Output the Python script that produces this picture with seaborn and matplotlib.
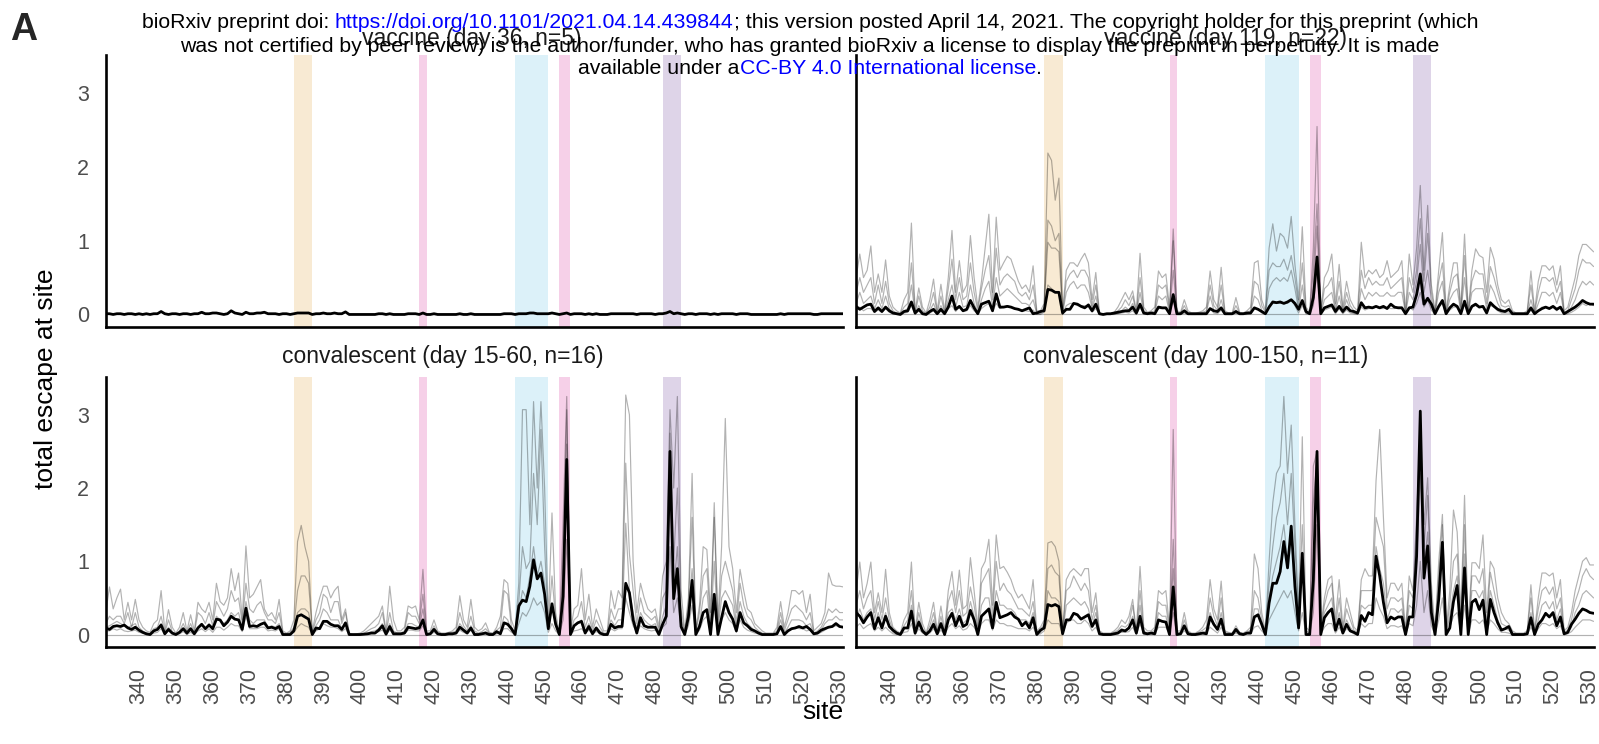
import matplotlib
matplotlib.use("Agg")
import matplotlib.pyplot as plt
import numpy as np
import pandas as pd
import seaborn as sns

sns.set_theme(style="white")
plt.rcParams["font.family"] = ["Liberation Sans", "DejaVu Sans"]

# ---------------------------------------------------------------- data
SITES = list(range(331, 532))
X_TICKS = list(range(340, 531, 10))
Y_TICKS = [0, 1, 2, 3]

# antigenic regions highlighted behind the lines: (first, last, colour)
REGIONS = [
    (382, 387, "#F8EAD3"),
    (416, 418, "#F6D0E8"),
    (442, 451, "#DCF1F9"),
    (454, 457, "#F6D0E8"),
    (482, 487, "#DED4E8"),
]

# mean total escape per site
VAX36_MEAN = [
    0.01, 0.01, 0.00, 0.01, 0.01, 0.00, 0.01, 0.01, 0.00, 0.01,
    0.00, 0.01, 0.00, 0.01, 0.01, 0.04, 0.01, 0.00, 0.01, 0.01,
    0.00, 0.01, 0.01, 0.00, 0.01, 0.01, 0.03, 0.01, 0.01, 0.02,
    0.02, 0.01, 0.00, 0.01, 0.05, 0.02, 0.01, 0.00, 0.03, 0.01,
    0.01, 0.02, 0.02, 0.03, 0.01, 0.01, 0.01, 0.00, 0.01, 0.01,
    0.00, 0.01, 0.02, 0.02, 0.02, 0.02, 0.00, 0.01, 0.01, 0.02,
    0.01, 0.01, 0.02, 0.01, 0.01, 0.035, 0.00, 0.00, 0.00, 0.00,
    0.00, 0.00, 0.00, 0.00, 0.01, 0.01, 0.00, 0.01, 0.00, 0.00,
    0.00, 0.00, 0.01, 0.01, 0.01, 0.00, 0.02, 0.00, 0.00, 0.01,
    0.00, 0.00, 0.00, 0.00, 0.00, 0.00, 0.01, 0.00, 0.00, 0.01,
    0.00, 0.00, 0.00, 0.00, 0.00, 0.00, 0.00, 0.00, 0.01, 0.01,
    0.01, 0.00, 0.01, 0.01, 0.01, 0.02, 0.02, 0.01, 0.01, 0.01,
    0.01, 0.02, 0.01, 0.00, 0.01, 0.02, 0.00, 0.01, 0.01, 0.01,
    0.00, 0.01, 0.00, 0.01, 0.00, 0.00, 0.00, 0.01, 0.01, 0.01,
    0.01, 0.01, 0.01, 0.01, 0.00, 0.01, 0.01, 0.01, 0.01, 0.00,
    0.01, 0.01, 0.02, 0.04, 0.01, 0.02, 0.01, 0.00, 0.01, 0.01,
    0.00, 0.01, 0.01, 0.01, 0.00, 0.01, 0.00, 0.01, 0.01, 0.01,
    0.01, 0.00, 0.01, 0.01, 0.01, 0.00, 0.00, 0.00, 0.00, 0.00,
    0.00, 0.00, 0.00, 0.01, 0.00, 0.01, 0.01, 0.01, 0.01, 0.01,
    0.01, 0.01, 0.00, 0.00, 0.01, 0.01, 0.01, 0.01, 0.01, 0.01, 0.01,
]

VAX119_MEAN = [
    0.11, 0.07, 0.10, 0.13, 0.14, 0.04, 0.09, 0.04, 0.10, 0.05,
    0.02, 0.01, 0.00, 0.04, 0.05, 0.17, 0.02, 0.07, 0.01, 0.00,
    0.04, 0.07, 0.01, 0.07, 0.01, 0.10, 0.25, 0.07, 0.11, 0.05,
    0.07, 0.19, 0.09, 0.01, 0.14, 0.16, 0.18, 0.05, 0.28, 0.10,
    0.10, 0.11, 0.10, 0.08, 0.07, 0.05, 0.07, 0.09, 0.01, 0.02,
    0.04, 0.05, 0.34, 0.33, 0.30, 0.30, 0.02, 0.07, 0.07, 0.15,
    0.14, 0.11, 0.09, 0.13, 0.05, 0.14, 0.01, 0.00, 0.01, 0.01,
    0.02, 0.03, 0.04, 0.05, 0.05, 0.10, 0.02, 0.14, 0.02, 0.01,
    0.02, 0.01, 0.10, 0.09, 0.09, 0.01, 0.27, 0.01, 0.01, 0.05,
    0.01, 0.01, 0.01, 0.01, 0.01, 0.01, 0.08, 0.05, 0.04, 0.09,
    0.01, 0.01, 0.01, 0.04, 0.01, 0.01, 0.02, 0.02, 0.09, 0.07,
    0.04, 0.01, 0.10, 0.17, 0.16, 0.17, 0.15, 0.17, 0.20, 0.15,
    0.07, 0.19, 0.04, 0.01, 0.23, 0.78, 0.01, 0.09, 0.11, 0.13,
    0.04, 0.11, 0.04, 0.10, 0.05, 0.04, 0.02, 0.16, 0.09, 0.10,
    0.09, 0.11, 0.09, 0.11, 0.08, 0.14, 0.10, 0.09, 0.09, 0.01,
    0.09, 0.10, 0.27, 0.55, 0.14, 0.22, 0.14, 0.01, 0.11, 0.19,
    0.01, 0.09, 0.14, 0.11, 0.01, 0.18, 0.01, 0.11, 0.14, 0.10,
    0.11, 0.02, 0.16, 0.11, 0.07, 0.05, 0.04, 0.07, 0.01, 0.01,
    0.01, 0.01, 0.01, 0.09, 0.01, 0.05, 0.08, 0.10, 0.08, 0.11,
    0.07, 0.10, 0.01, 0.04, 0.07, 0.10, 0.14, 0.19, 0.16, 0.14, 0.14,
]

CONV_EARLY_MEAN = [
    0.09, 0.07, 0.11, 0.12, 0.11, 0.13, 0.09, 0.07, 0.10, 0.06,
    0.03, 0.01, 0.00, 0.05, 0.07, 0.13, 0.01, 0.07, 0.02, 0.00,
    0.03, 0.08, 0.02, 0.08, 0.01, 0.09, 0.14, 0.08, 0.13, 0.08,
    0.21, 0.20, 0.12, 0.17, 0.25, 0.21, 0.20, 0.07, 0.36, 0.11,
    0.12, 0.11, 0.14, 0.16, 0.09, 0.10, 0.08, 0.11, 0.00, 0.00,
    0.00, 0.05, 0.25, 0.27, 0.24, 0.21, 0.00, 0.09, 0.08, 0.18,
    0.18, 0.14, 0.12, 0.12, 0.07, 0.16, 0.00, 0.00, 0.00, 0.00,
    0.005, 0.01, 0.02, 0.02, 0.06, 0.12, 0.005, 0.11, 0.01, 0.01,
    0.01, 0.02, 0.10, 0.09, 0.08, 0.09, 0.20, 0.00, 0.01, 0.07,
    0.01, 0.00, 0.00, 0.01, 0.01, 0.02, 0.10, 0.06, 0.02, 0.09,
    0.00, 0.00, 0.01, 0.02, 0.00, 0.00, 0.04, 0.01, 0.16, 0.14,
    0.08, 0.00, 0.39, 0.47, 0.45, 0.66, 1.02, 0.76, 0.84, 0.55,
    0.08, 0.42, 0.14, 0.00, 0.52, 2.39, 0.00, 0.12, 0.16, 0.18,
    0.02, 0.11, 0.01, 0.09, 0.02, 0.00, 0.00, 0.14, 0.09, 0.11,
    0.11, 0.70, 0.57, 0.20, 0.02, 0.23, 0.12, 0.10, 0.10, 0.10,
    0.00, 0.14, 0.25, 2.50, 0.49, 0.90, 0.11, 0.00, 0.24, 0.74,
    0.00, 0.11, 0.30, 0.34, 0.00, 0.55, 0.00, 0.23, 0.45, 0.30,
    0.21, 0.05, 0.30, 0.16, 0.12, 0.07, 0.05, 0.02, 0.00, 0.00,
    0.00, 0.00, 0.01, 0.11, 0.00, 0.05, 0.08, 0.09, 0.11, 0.09,
    0.11, 0.07, 0.01, 0.02, 0.06, 0.08, 0.10, 0.11, 0.15, 0.11, 0.10,
]

CONV_LATE_MEAN = [
    0.30, 0.25, 0.16, 0.24, 0.30, 0.08, 0.23, 0.09, 0.25, 0.11,
    0.06, 0.02, 0.00, 0.09, 0.09, 0.32, 0.02, 0.17, 0.05, 0.00,
    0.05, 0.14, 0.01, 0.15, 0.00, 0.20, 0.29, 0.12, 0.25, 0.11,
    0.14, 0.33, 0.20, 0.00, 0.25, 0.30, 0.35, 0.09, 0.44, 0.23,
    0.25, 0.27, 0.30, 0.24, 0.21, 0.12, 0.17, 0.09, 0.23, 0.00,
    0.06, 0.09, 0.41, 0.39, 0.41, 0.38, 0.01, 0.20, 0.20, 0.29,
    0.27, 0.21, 0.24, 0.27, 0.11, 0.20, 0.01, 0.00, 0.00, 0.00,
    0.01, 0.02, 0.06, 0.05, 0.09, 0.20, 0.02, 0.25, 0.02, 0.01,
    0.02, 0.01, 0.20, 0.18, 0.17, 0.00, 0.65, 0.00, 0.01, 0.12,
    0.01, 0.00, 0.00, 0.01, 0.02, 0.01, 0.24, 0.14, 0.07, 0.21,
    0.00, 0.00, 0.00, 0.07, 0.01, 0.00, 0.02, 0.02, 0.24, 0.27,
    0.14, 0.00, 0.43, 0.70, 0.70, 0.86, 1.27, 0.91, 1.48, 0.66,
    0.09, 1.11, 0.00, 0.00, 0.75, 2.50, 0.00, 0.23, 0.30, 0.35,
    0.06, 0.21, 0.02, 0.14, 0.05, 0.03, 0.00, 0.26, 0.18, 0.30,
    0.27, 1.07, 0.80, 0.44, 0.16, 0.24, 0.21, 0.24, 0.24, 0.00,
    0.24, 0.24, 1.07, 3.05, 0.77, 1.21, 0.30, 0.00, 0.48, 1.26,
    0.00, 0.09, 0.45, 0.67, 0.00, 0.91, 0.00, 0.44, 0.48, 0.34,
    0.47, 0.00, 0.48, 0.30, 0.16, 0.06, 0.08, 0.11, 0.00, 0.00,
    0.00, 0.00, 0.01, 0.23, 0.00, 0.14, 0.20, 0.29, 0.24, 0.30,
    0.12, 0.24, 0.01, 0.03, 0.14, 0.21, 0.29, 0.35, 0.33, 0.30, 0.29,
]

# individual sera (a few representative ones per group)
NO_ESCAPE = [
    0, 0, 0, 0, 0, 0, 0, 0, 0, 0, 0, 0, 0, 0, 0, 0, 0, 0, 0, 0,
    0, 0, 0, 0, 0, 0, 0, 0, 0, 0, 0, 0, 0, 0, 0, 0, 0, 0, 0, 0,
    0, 0, 0, 0, 0, 0, 0, 0, 0, 0, 0, 0, 0, 0, 0, 0, 0, 0, 0, 0,
    0, 0, 0, 0, 0, 0, 0, 0, 0, 0, 0, 0, 0, 0, 0, 0, 0, 0, 0, 0,
    0, 0, 0, 0, 0, 0, 0, 0, 0, 0, 0, 0, 0, 0, 0, 0, 0, 0, 0, 0,
    0, 0, 0, 0, 0, 0, 0, 0, 0, 0, 0, 0, 0, 0, 0, 0, 0, 0, 0, 0,
    0, 0, 0, 0, 0, 0, 0, 0, 0, 0, 0, 0, 0, 0, 0, 0, 0, 0, 0, 0,
    0, 0, 0, 0, 0, 0, 0, 0, 0, 0, 0, 0, 0, 0, 0, 0, 0, 0, 0, 0,
    0, 0, 0, 0, 0, 0, 0, 0, 0, 0, 0, 0, 0, 0, 0, 0, 0, 0, 0, 0,
    0, 0, 0, 0, 0, 0, 0, 0, 0, 0, 0, 0, 0, 0, 0, 0, 0, 0, 0, 0,
    0,
]

VAX119_S1 = [
    0.5, 0.82, 0.5, 0.6, 0.93, 0.3, 0.55, 0.3, 0.74, 0.25,
    0.1, 0.05, 0.02, 0.2, 0.3, 1.24, 0.05, 0.36, 0.1, 0.02,
    0.2, 0.48, 0.05, 0.41, 0.05, 0.5, 1.14, 0.3, 0.73, 0.3,
    0.4, 1.07, 0.5, 0.1, 0.45, 0.9, 1.36, 0.3, 1.32, 0.6,
    0.7, 0.79, 0.75, 0.6, 0.45, 0.35, 0.4, 0.3, 0.66, 0.05,
    0.05, 0.15, 2.19, 2.09, 1.55, 1.85, 0.05, 0.6, 0.7, 0.7,
    0.65, 0.75, 0.83, 0.7, 0.2, 0.57, 0.02, 0, 0.01, 0.01,
    0.03, 0.1, 0.2, 0.3, 0.2, 0.32, 0.05, 0.83, 0.1, 0.03,
    0.05, 0.1, 0.59, 0.5, 0.55, 0.1, 1.16, 0.05, 0.03, 0.2,
    0.05, 0.02, 0.02, 0.03, 0.05, 0.1, 0.59, 0.2, 0.1, 0.64,
    0.05, 0.02, 0.02, 0.23, 0.03, 0.02, 0.05, 0.1, 0.7, 0.73,
    0.2, 0.05, 0.9, 1.23, 0.86, 1.1, 1.05, 0.9, 1.33, 0.68,
    0.2, 1.19, 0.1, 0.03, 0.9, 2.55, 0.05, 0.5, 0.6, 0.82,
    0.15, 0.68, 0.1, 0.45, 0.2, 0.1, 0.05, 0.98, 0.5, 0.6,
    0.55, 0.61, 0.5, 0.55, 0.73, 0.5, 0.55, 0.6, 0.73, 0.05,
    0.82, 0.4, 0.9, 1.75, 0.6, 1.48, 0.4, 0.05, 0.6, 1.11,
    0.05, 0.4, 0.7, 0.7, 0.1, 1.09, 0.05, 0.6, 0.89, 0.8,
    0.77, 0.3, 0.91, 0.75, 0.4, 0.2, 0.15, 0.2, 0.05, 0.02,
    0.02, 0.02, 0.05, 0.59, 0.05, 0.45, 0.66, 0.66, 0.6, 0.66,
    0.4, 0.66, 0.05, 0.1, 0.3, 0.5, 0.8, 0.95, 0.95, 0.9, 0.85,
]
VAX119_S2 = [
    0.3, 0.5, 0.3, 0.4, 0.5, 0.15, 0.4, 0.15, 0.45, 0.15,
    0.05, 0.02, 0.01, 0.1, 0.15, 0.7, 0.02, 0.25, 0.05, 0.01,
    0.1, 0.3, 0.02, 0.25, 0.02, 0.35, 0.75, 0.2, 0.5, 0.2,
    0.25, 0.7, 0.3, 0.05, 0.35, 0.6, 0.8, 0.2, 0.9, 0.4,
    0.5, 0.55, 0.5, 0.45, 0.3, 0.25, 0.3, 0.2, 0.4, 0.02,
    0.03, 0.1, 1.28, 1.2, 1.0, 1.1, 0.02, 0.45, 0.55, 0.6,
    0.5, 0.6, 0.6, 0.5, 0.12, 0.4, 0.01, 0, 0, 0,
    0.02, 0.05, 0.1, 0.2, 0.12, 0.25, 0.02, 0.5, 0.05, 0.02,
    0.03, 0.05, 0.4, 0.35, 0.4, 0.05, 1.0, 0.02, 0.02, 0.12,
    0.02, 0.01, 0.01, 0.02, 0.03, 0.05, 0.4, 0.12, 0.06, 0.4,
    0.02, 0.01, 0.01, 0.12, 0.02, 0.01, 0.03, 0.05, 0.45, 0.4,
    0.12, 0.03, 0.6, 0.7, 0.65, 0.65, 0.75, 0.6, 0.8, 0.5,
    0.12, 0.7, 0.05, 0.02, 0.6, 1.5, 0.02, 0.35, 0.4, 0.5,
    0.08, 0.45, 0.05, 0.3, 0.12, 0.05, 0.02, 0.6, 0.35, 0.5,
    0.4, 0.45, 0.4, 0.4, 0.5, 0.35, 0.4, 0.45, 0.5, 0.02,
    0.5, 0.3, 0.6, 1.3, 0.45, 1.1, 0.3, 0.02, 0.45, 0.7,
    0.02, 0.3, 0.5, 0.55, 0.05, 0.8, 0.02, 0.45, 0.6, 0.55,
    0.55, 0.15, 0.65, 0.5, 0.3, 0.12, 0.1, 0.12, 0.02, 0.01,
    0.01, 0.01, 0.03, 0.4, 0.02, 0.3, 0.5, 0.5, 0.45, 0.5,
    0.3, 0.45, 0.02, 0.05, 0.2, 0.35, 0.6, 0.75, 0.7, 0.7, 0.65,
]
VAX119_S3 = [
    0.15, 0.3, 0.15, 0.2, 0.25, 0.08, 0.2, 0.08, 0.25, 0.08,
    0.02, 0.01, 0, 0.05, 0.08, 0.4, 0.01, 0.12, 0.02, 0,
    0.05, 0.15, 0.01, 0.12, 0.01, 0.2, 0.4, 0.1, 0.3, 0.1,
    0.12, 0.4, 0.15, 0.02, 0.2, 0.35, 0.45, 0.1, 0.5, 0.25,
    0.3, 0.35, 0.3, 0.25, 0.2, 0.15, 0.15, 0.12, 0.2, 0.01,
    0.01, 0.08, 0.98, 0.9, 0.9, 0.85, 0.01, 0.3, 0.4, 0.45,
    0.35, 0.4, 0.4, 0.3, 0.08, 0.25, 0, 0, 0, 0,
    0.01, 0.02, 0.05, 0.1, 0.06, 0.15, 0.01, 0.3, 0.02, 0.01,
    0.01, 0.02, 0.25, 0.2, 0.25, 0.02, 0.6, 0.01, 0.01, 0.06,
    0.01, 0, 0, 0.01, 0.01, 0.03, 0.25, 0.06, 0.03, 0.2,
    0.01, 0, 0, 0.06, 0.01, 0, 0.01, 0.03, 0.25, 0.2,
    0.06, 0.01, 0.35, 0.45, 0.5, 0.45, 0.5, 0.45, 0.6, 0.35,
    0.06, 0.4, 0.02, 0.01, 0.35, 1.2, 0.01, 0.2, 0.25, 0.3,
    0.04, 0.25, 0.02, 0.2, 0.06, 0.02, 0.01, 0.35, 0.2, 0.3,
    0.25, 0.3, 0.25, 0.25, 0.3, 0.25, 0.25, 0.3, 0.3, 0.01,
    0.3, 0.2, 0.45, 0.95, 0.3, 0.6, 0.2, 0.01, 0.3, 0.45,
    0.01, 0.2, 0.3, 0.35, 0.02, 0.5, 0.01, 0.3, 0.35, 0.35,
    0.35, 0.08, 0.4, 0.3, 0.15, 0.06, 0.05, 0.06, 0.01, 0,
    0, 0, 0.01, 0.2, 0.01, 0.15, 0.3, 0.3, 0.25, 0.3,
    0.15, 0.3, 0.01, 0.03, 0.1, 0.2, 0.35, 0.45, 0.4, 0.45, 0.4,
]
VAX119_S4 = [
    0.05, 0.1, 0.05, 0.08, 0.08, 0.03, 0.06, 0.03, 0.08, 0.03,
    0.01, 0, 0, 0.02, 0.03, 0.12, 0, 0.05, 0.01, 0,
    0.02, 0.05, 0, 0.05, 0, 0.08, 0.12, 0.04, 0.1, 0.04,
    0.05, 0.12, 0.05, 0.01, 0.08, 0.12, 0.15, 0.04, 0.15, 0.08,
    0.1, 0.12, 0.1, 0.08, 0.06, 0.05, 0.05, 0.04, 0.06, 0,
    0, 0.03, 0.4, 0.35, 0.3, 0.3, 0, 0.12, 0.15, 0.15,
    0.12, 0.12, 0.12, 0.1, 0.03, 0.08, 0, 0, 0, 0,
    0, 0.01, 0.02, 0.03, 0.02, 0.05, 0, 0.1, 0.01, 0,
    0, 0.01, 0.08, 0.08, 0.08, 0.01, 0.2, 0, 0, 0.02,
    0, 0, 0, 0, 0, 0.01, 0.08, 0.02, 0.01, 0.06,
    0, 0, 0, 0.02, 0, 0, 0, 0.01, 0.08, 0.08,
    0.02, 0, 0.12, 0.15, 0.15, 0.15, 0.15, 0.15, 0.2, 0.12,
    0.02, 0.12, 0.01, 0, 0.12, 0.6, 0, 0.06, 0.08, 0.1,
    0.01, 0.08, 0.01, 0.06, 0.02, 0.01, 0, 0.1, 0.06, 0.08,
    0.08, 0.1, 0.08, 0.08, 0.1, 0.08, 0.08, 0.1, 0.1, 0,
    0.1, 0.06, 0.15, 0.3, 0.1, 0.2, 0.06, 0, 0.1, 0.15,
    0, 0.06, 0.1, 0.1, 0.01, 0.15, 0, 0.1, 0.12, 0.1,
    0.1, 0.02, 0.12, 0.1, 0.05, 0.02, 0.02, 0.02, 0, 0,
    0, 0, 0, 0.06, 0, 0.05, 0.1, 0.1, 0.08, 0.1,
    0.05, 0.1, 0, 0.01, 0.03, 0.06, 0.1, 0.15, 0.12, 0.15, 0.12,
]

CONV_EARLY_S1 = [
    0.3, 0.65, 0.35, 0.5, 0.62, 0.2, 0.44, 0.2, 0.48, 0.2,
    0.1, 0.05, 0.03, 0.15, 0.2, 0.6, 0.05, 0.34, 0.1, 0.02,
    0.1, 0.3, 0.05, 0.27, 0.05, 0.44, 0.35, 0.3, 0.44, 0.2,
    0.7, 0.45, 0.4, 0.5, 0.9, 0.6, 0.84, 0.2, 1.21, 0.5,
    0.55, 0.65, 0.75, 0.35, 0.25, 0.3, 0.2, 0.48, 0.05, 0.02,
    0.05, 0.2, 1.27, 1.49, 1.2, 1.0, 0.05, 0.3, 0.5, 0.66,
    0.66, 0.5, 0.6, 0.66, 0.2, 0.35, 0.02, 0, 0.01, 0.02,
    0.05, 0.1, 0.15, 0.2, 0.25, 0.39, 0.05, 0.66, 0.2, 0.05,
    0.05, 0.1, 0.39, 0.36, 0.39, 0.2, 0.89, 0.05, 0.05, 0.2,
    0.05, 0.02, 0.02, 0.03, 0.05, 0.1, 0.53, 0.2, 0.1, 0.48,
    0.1, 0.05, 0.08, 0.16, 0.03, 0.02, 0.1, 0.25, 0.75, 0.7,
    0.2, 0.05, 0.7, 3.07, 3.07, 1.5, 3.18, 2.0, 3.18, 2.0,
    0.2, 1.66, 0.3, 0.02, 1.5, 3.25, 0.05, 0.35, 0.4, 0.9,
    0.2, 0.55, 0.1, 0.35, 0.2, 0.05, 0.05, 0.6, 0.35, 0.6,
    0.5, 3.27, 3.0, 1.0, 0.3, 0.7, 0.5, 0.35, 0.3, 0.35,
    0.1, 0.8, 1.0, 3.07, 2.0, 3.25, 0.6, 0.05, 0.5, 2.2,
    0.05, 0.4, 1.2, 1.16, 0.3, 1.8, 0.2, 1.2, 2.95, 1.2,
    0.9, 0.3, 0.89, 0.6, 0.35, 0.3, 0.15, 0.1, 0.05, 0.02,
    0.02, 0.02, 0.1, 0.45, 0.1, 0.3, 0.6, 0.6, 0.55, 0.6,
    0.3, 0.55, 0.05, 0.1, 0.15, 0.3, 0.84, 0.68, 0.66, 0.66, 0.65,
]
CONV_EARLY_S2 = [
    0.15, 0.25, 0.2, 0.25, 0.25, 0.15, 0.3, 0.1, 0.3, 0.1,
    0.05, 0.02, 0.01, 0.08, 0.1, 0.25, 0.02, 0.2, 0.04, 0.01,
    0.05, 0.15, 0.03, 0.15, 0.02, 0.3, 0.25, 0.15, 0.3, 0.12,
    0.45, 0.35, 0.25, 0.35, 0.6, 0.45, 0.5, 0.15, 0.7, 0.35,
    0.3, 0.4, 0.45, 0.3, 0.2, 0.2, 0.15, 0.3, 0.02, 0.01,
    0.03, 0.1, 0.6, 0.8, 0.8, 0.7, 0.02, 0.2, 0.3, 0.55,
    0.5, 0.3, 0.45, 0.45, 0.15, 0.3, 0.01, 0, 0, 0.01,
    0.02, 0.05, 0.08, 0.1, 0.15, 0.3, 0.02, 0.3, 0.05, 0.02,
    0.02, 0.05, 0.3, 0.25, 0.25, 0.15, 0.55, 0.02, 0.02, 0.12,
    0.02, 0.01, 0.01, 0.02, 0.03, 0.05, 0.3, 0.12, 0.05, 0.25,
    0.05, 0.02, 0.04, 0.08, 0.02, 0.01, 0.06, 0.1, 0.6, 0.55,
    0.1, 0.02, 0.45, 1.2, 0.9, 1.0, 2.2, 1.5, 2.8, 1.2,
    0.12, 0.8, 0.2, 0.01, 0.9, 3.07, 0.02, 0.2, 0.25, 0.45,
    0.1, 0.25, 0.05, 0.2, 0.1, 0.02, 0.02, 0.35, 0.2, 0.35,
    0.35, 2.34, 1.1, 0.6, 0.15, 0.5, 0.3, 0.25, 0.2, 0.25,
    0.05, 0.5, 0.6, 2.75, 1.0, 2.0, 0.35, 0.02, 0.4, 1.6,
    0.02, 0.3, 0.8, 0.9, 0.15, 1.6, 0.1, 0.8, 1.0, 0.8,
    0.6, 0.15, 0.7, 0.4, 0.25, 0.2, 0.1, 0.05, 0.02, 0.01,
    0.01, 0.01, 0.05, 0.3, 0.05, 0.2, 0.35, 0.4, 0.35, 0.3,
    0.2, 0.3, 0.02, 0.05, 0.1, 0.2, 0.35, 0.3, 0.35, 0.3, 0.3,
]
CONV_EARLY_S3 = [
    0.1, 0.12, 0.15, 0.18, 0.15, 0.12, 0.1, 0.12, 0.15, 0.05,
    0.03, 0.01, 0, 0.05, 0.06, 0.15, 0.01, 0.1, 0.02, 0,
    0.03, 0.08, 0.01, 0.06, 0.01, 0.1, 0.15, 0.08, 0.15, 0.06,
    0.25, 0.2, 0.15, 0.2, 0.3, 0.25, 0.3, 0.08, 0.45, 0.2,
    0.15, 0.2, 0.2, 0.2, 0.1, 0.12, 0.1, 0.15, 0.01, 0,
    0.01, 0.08, 0.3, 0.35, 0.35, 0.3, 0.01, 0.12, 0.2, 0.35,
    0.3, 0.2, 0.2, 0.2, 0.08, 0.15, 0, 0, 0, 0,
    0.01, 0.02, 0.04, 0.05, 0.08, 0.15, 0.01, 0.15, 0.02, 0.01,
    0.01, 0.03, 0.15, 0.15, 0.12, 0.1, 0.35, 0.01, 0.01, 0.08,
    0.01, 0, 0, 0.01, 0.01, 0.03, 0.15, 0.08, 0.03, 0.12,
    0.02, 0.01, 0.02, 0.04, 0.01, 0, 0.03, 0.05, 0.25, 0.2,
    0.05, 0.01, 0.3, 0.6, 0.5, 0.8, 1.2, 0.8, 1.0, 0.7,
    0.08, 0.4, 0.12, 0, 0.5, 2.6, 0.01, 0.12, 0.15, 0.2,
    0.05, 0.15, 0.02, 0.1, 0.05, 0.01, 0.01, 0.2, 0.12, 0.2,
    0.2, 1.52, 0.6, 0.3, 0.08, 0.3, 0.2, 0.15, 0.12, 0.15,
    0.02, 0.25, 0.4, 2.2, 0.6, 1.2, 0.2, 0.01, 0.3, 0.9,
    0.01, 0.15, 0.5, 0.6, 0.08, 1.0, 0.05, 0.5, 0.6, 0.5,
    0.4, 0.08, 0.45, 0.25, 0.15, 0.1, 0.05, 0.03, 0.01, 0,
    0, 0, 0.02, 0.2, 0.02, 0.1, 0.2, 0.2, 0.2, 0.18,
    0.12, 0.15, 0.01, 0.03, 0.06, 0.15, 0.2, 0.2, 0.25, 0.2, 0.2,
]
CONV_EARLY_S4 = [
    0.05, 0.05, 0.08, 0.06, 0.08, 0.05, 0.04, 0.05, 0.06, 0.03,
    0.02, 0, 0, 0.02, 0.03, 0.08, 0, 0.05, 0.01, 0,
    0.01, 0.04, 0, 0.03, 0, 0.05, 0.08, 0.04, 0.08, 0.03,
    0.1, 0.1, 0.06, 0.1, 0.15, 0.12, 0.12, 0.04, 0.25, 0.08,
    0.08, 0.08, 0.1, 0.1, 0.05, 0.06, 0.05, 0.08, 0, 0,
    0, 0.03, 0.1, 0.15, 0.12, 0.1, 0, 0.05, 0.08, 0.15,
    0.12, 0.1, 0.1, 0.08, 0.04, 0.08, 0, 0, 0, 0,
    0, 0.01, 0.02, 0.02, 0.04, 0.06, 0, 0.06, 0.01, 0,
    0, 0.01, 0.06, 0.06, 0.05, 0.05, 0.12, 0, 0, 0.03,
    0, 0, 0, 0, 0, 0.01, 0.06, 0.03, 0.01, 0.06,
    0.01, 0, 0.01, 0.02, 0, 0, 0.01, 0.02, 0.08, 0.08,
    0.03, 0, 0.15, 0.3, 0.25, 0.35, 0.5, 0.4, 0.45, 0.3,
    0.03, 0.15, 0.05, 0, 0.2, 1.3, 0, 0.05, 0.06, 0.08,
    0.02, 0.06, 0.01, 0.04, 0.02, 0, 0, 0.08, 0.05, 0.08,
    0.08, 0.5, 0.3, 0.12, 0.03, 0.12, 0.08, 0.06, 0.05, 0.06,
    0.01, 0.1, 0.15, 1.2, 0.3, 0.5, 0.08, 0, 0.12, 0.4,
    0, 0.06, 0.2, 0.25, 0.03, 0.4, 0.02, 0.2, 0.3, 0.2,
    0.15, 0.03, 0.2, 0.1, 0.06, 0.04, 0.02, 0.01, 0, 0,
    0, 0, 0.01, 0.08, 0.01, 0.05, 0.08, 0.1, 0.08, 0.08,
    0.05, 0.06, 0, 0.01, 0.03, 0.06, 0.1, 0.1, 0.12, 0.1, 0.1,
]

CONV_LATE_S1 = [
    0.6, 0.99, 0.5, 0.7, 0.99, 0.3, 0.57, 0.3, 0.89, 0.3,
    0.1, 0.05, 0.02, 0.2, 0.3, 0.99, 0.05, 0.44, 0.15, 0.02,
    0.2, 0.44, 0.05, 0.39, 0.05, 0.6, 0.86, 0.4, 0.88, 0.35,
    0.4, 1.05, 0.6, 0.1, 0.9, 1.0, 1.3, 0.4, 1.36, 0.9,
    0.93, 0.85, 0.75, 0.6, 0.5, 0.55, 0.45, 0.35, 0.75, 0.05,
    0.1, 0.2, 1.25, 1.27, 1.2, 1.0, 0.05, 0.75, 0.85, 0.9,
    0.85, 0.8, 0.9, 0.9, 0.3, 0.57, 0.05, 0.02, 0.02, 0.02,
    0.05, 0.1, 0.2, 0.15, 0.25, 0.48, 0.05, 0.93, 0.1, 0.05,
    0.05, 0.1, 0.6, 0.55, 0.6, 0.1, 2.8, 0.05, 0.05, 0.3,
    0.05, 0.02, 0.02, 0.05, 0.1, 0.2, 0.75, 0.35, 0.2, 0.73,
    0.05, 0.03, 0.02, 0.12, 0.03, 0.02, 0.05, 0.1, 1.1, 0.9,
    0.3, 0.05, 1.0, 1.8, 2.2, 2.3, 3.25, 2.2, 2.86, 1.5,
    0.3, 2.7, 0.1, 0.05, 2.3, 2.5, 0.1, 0.5, 0.75, 0.8,
    0.2, 0.75, 0.1, 0.5, 0.3, 0.1, 0.05, 0.75, 0.9, 0.8,
    0.8, 2.1, 2.8, 1.6, 0.5, 0.7, 0.7, 0.6, 0.7, 0.05,
    0.8, 0.6, 1.6, 2.8, 1.5, 2.14, 0.7, 0.05, 1.0, 1.64,
    0.05, 0.6, 1.7, 1.4, 0.3, 1.9, 0.1, 0.98, 0.98, 0.9,
    1.36, 0.3, 1.0, 0.9, 0.5, 0.3, 0.2, 0.15, 0.05, 0.02,
    0.02, 0.02, 0.05, 0.68, 0.05, 0.5, 0.84, 0.84, 0.8, 0.84,
    0.5, 0.75, 0.05, 0.1, 0.3, 0.6, 0.8, 1.0, 1.05, 0.95, 0.95,
]
CONV_LATE_S2 = [
    0.4, 0.6, 0.35, 0.5, 0.6, 0.2, 0.45, 0.2, 0.5, 0.2,
    0.06, 0.03, 0.01, 0.12, 0.2, 0.6, 0.03, 0.3, 0.08, 0.01,
    0.12, 0.3, 0.03, 0.25, 0.02, 0.45, 0.6, 0.3, 0.6, 0.25,
    0.3, 0.65, 0.4, 0.05, 0.7, 0.8, 0.9, 0.25, 1.0, 0.6,
    0.7, 0.6, 0.55, 0.45, 0.35, 0.35, 0.3, 0.25, 0.45, 0.02,
    0.06, 0.15, 0.9, 0.95, 0.85, 0.8, 0.03, 0.6, 0.65, 0.8,
    0.7, 0.6, 0.7, 0.6, 0.2, 0.4, 0.02, 0.01, 0.01, 0.01,
    0.03, 0.06, 0.12, 0.1, 0.15, 0.4, 0.03, 0.6, 0.05, 0.02,
    0.03, 0.06, 0.45, 0.4, 0.4, 0.05, 1.3, 0.03, 0.03, 0.2,
    0.03, 0.01, 0.01, 0.03, 0.06, 0.1, 0.5, 0.25, 0.12, 0.5,
    0.03, 0.02, 0.01, 0.08, 0.02, 0.01, 0.03, 0.06, 0.6, 0.5,
    0.2, 0.03, 0.7, 1.2, 1.6, 1.8, 2.2, 1.5, 2.2, 1.2,
    0.2, 1.5, 0.05, 0.02, 1.8, 2.4, 0.05, 0.4, 0.6, 0.7,
    0.1, 0.5, 0.05, 0.35, 0.2, 0.06, 0.03, 0.6, 0.6, 0.6,
    0.6, 1.6, 1.4, 1.2, 0.35, 0.5, 0.5, 0.45, 0.5, 0.02,
    0.6, 0.5, 1.3, 2.5, 1.2, 1.9, 0.5, 0.03, 0.8, 1.5,
    0.02, 0.4, 1.0, 1.1, 0.15, 1.5, 0.05, 0.8, 0.8, 0.7,
    0.9, 0.15, 0.85, 0.6, 0.35, 0.15, 0.12, 0.1, 0.02, 0.01,
    0.01, 0.01, 0.03, 0.5, 0.03, 0.35, 0.6, 0.65, 0.55, 0.65,
    0.35, 0.5, 0.03, 0.06, 0.2, 0.45, 0.6, 0.8, 0.9, 0.8, 0.75,
]
CONV_LATE_S3 = [
    0.2, 0.35, 0.2, 0.3, 0.35, 0.1, 0.3, 0.12, 0.3, 0.1,
    0.03, 0.01, 0, 0.08, 0.1, 0.4, 0.01, 0.2, 0.05, 0,
    0.06, 0.2, 0.01, 0.15, 0.01, 0.3, 0.35, 0.2, 0.35, 0.15,
    0.2, 0.45, 0.25, 0.02, 0.4, 0.5, 0.5, 0.15, 0.6, 0.4,
    0.4, 0.35, 0.35, 0.3, 0.2, 0.2, 0.2, 0.15, 0.3, 0.01,
    0.03, 0.1, 0.6, 0.5, 0.5, 0.45, 0.02, 0.4, 0.45, 0.5,
    0.45, 0.4, 0.45, 0.35, 0.12, 0.3, 0.01, 0, 0, 0,
    0.02, 0.04, 0.08, 0.06, 0.1, 0.25, 0.02, 0.4, 0.03, 0.01,
    0.02, 0.03, 0.3, 0.25, 0.25, 0.03, 0.9, 0.01, 0.01, 0.12,
    0.01, 0, 0, 0.01, 0.03, 0.05, 0.3, 0.15, 0.06, 0.3,
    0.01, 0.01, 0, 0.04, 0.01, 0, 0.02, 0.03, 0.35, 0.35,
    0.1, 0.01, 0.5, 0.8, 1.0, 1.2, 1.5, 1.0, 1.4, 0.8,
    0.1, 1.0, 0.02, 0.01, 0.9, 2.2, 0.02, 0.3, 0.4, 0.5,
    0.05, 0.3, 0.02, 0.2, 0.1, 0.03, 0.01, 0.4, 0.35, 0.4,
    0.4, 1.2, 0.9, 0.7, 0.2, 0.35, 0.35, 0.3, 0.35, 0.01,
    0.4, 0.35, 1.0, 2.2, 0.9, 1.4, 0.35, 0.01, 0.6, 1.2,
    0.01, 0.25, 0.6, 0.8, 0.08, 1.1, 0.02, 0.6, 0.6, 0.5,
    0.6, 0.08, 0.6, 0.4, 0.2, 0.08, 0.08, 0.06, 0.01, 0,
    0, 0, 0.01, 0.3, 0.01, 0.2, 0.4, 0.45, 0.35, 0.45,
    0.2, 0.35, 0.01, 0.03, 0.1, 0.3, 0.4, 0.55, 0.6, 0.55, 0.5,
]
CONV_LATE_S4 = [
    0.1, 0.15, 0.08, 0.12, 0.15, 0.05, 0.1, 0.05, 0.1, 0.05,
    0.01, 0, 0, 0.03, 0.04, 0.15, 0, 0.08, 0.02, 0,
    0.02, 0.08, 0, 0.06, 0, 0.1, 0.15, 0.08, 0.12, 0.06,
    0.08, 0.15, 0.1, 0.01, 0.15, 0.2, 0.2, 0.06, 0.2, 0.15,
    0.15, 0.12, 0.12, 0.1, 0.08, 0.08, 0.08, 0.05, 0.1, 0,
    0.01, 0.05, 0.2, 0.15, 0.15, 0.15, 0.01, 0.15, 0.2, 0.2,
    0.15, 0.15, 0.2, 0.15, 0.05, 0.1, 0, 0, 0, 0,
    0.01, 0.02, 0.03, 0.03, 0.04, 0.1, 0, 0.15, 0.01, 0,
    0.01, 0.01, 0.1, 0.1, 0.1, 0.01, 0.3, 0, 0, 0.05,
    0, 0, 0, 0, 0.01, 0.02, 0.1, 0.06, 0.02, 0.1,
    0, 0, 0, 0.02, 0, 0, 0.01, 0.01, 0.1, 0.12,
    0.05, 0, 0.2, 0.3, 0.4, 0.5, 0.6, 0.5, 0.6, 0.3,
    0.05, 0.3, 0, 0, 0.3, 1.5, 0, 0.1, 0.15, 0.15,
    0.02, 0.1, 0.01, 0.08, 0.04, 0.01, 0, 0.15, 0.1, 0.15,
    0.15, 0.5, 0.35, 0.25, 0.08, 0.12, 0.12, 0.1, 0.12, 0,
    0.15, 0.12, 0.4, 1.0, 0.3, 0.6, 0.12, 0, 0.2, 0.5,
    0, 0.1, 0.25, 0.3, 0.03, 0.4, 0.01, 0.2, 0.2, 0.15,
    0.2, 0.03, 0.2, 0.15, 0.08, 0.03, 0.03, 0.02, 0, 0,
    0, 0, 0, 0.1, 0, 0.08, 0.15, 0.15, 0.12, 0.15,
    0.08, 0.12, 0, 0.01, 0.04, 0.1, 0.15, 0.2, 0.2, 0.2, 0.18,
]

PANELS = [
    ("vaccine (day 36, n=5)", VAX36_MEAN, []),
    ("vaccine (day 119, n=22)", VAX119_MEAN,
     [VAX119_S1, VAX119_S2, VAX119_S3, VAX119_S4, NO_ESCAPE]),
    ("convalescent (day 15-60, n=16)", CONV_EARLY_MEAN,
     [CONV_EARLY_S1, CONV_EARLY_S2, CONV_EARLY_S3, CONV_EARLY_S4, NO_ESCAPE]),
    ("convalescent (day 100-150, n=11)", CONV_LATE_MEAN,
     [CONV_LATE_S1, CONV_LATE_S2, CONV_LATE_S3, CONV_LATE_S4, NO_ESCAPE]),
]

# ---------------------------------------------------------------- layout
W, H = 1599, 744
fig = plt.figure(figsize=(W / 100, H / 100), dpi=100)
fig.patch.set_facecolor("white")

col_left = [105.8, 856.1]
col_width = 737.5
row_top = [55.0, 376.7]
row_height = [272.0, 270.3]
title_x = [[472.0, 1225.0], [443.0, 1196.0]]
title_y = [38.0, 356.0]

TICK_GREY = "#4D4D4D"
for i, (title, mean, sera) in enumerate(PANELS):
    r, c = divmod(i, 2)
    left = col_left[c] / W
    bottom = 1 - (row_top[r] + row_height[r]) / H
    ax = fig.add_axes([left, bottom, col_width / W, row_height[r] / H])

    for lo, hi, colour in REGIONS:
        ax.axvspan(lo, hi, color=colour, lw=0, zorder=0)

    if sera:
        long = pd.DataFrame(
            [(k, s, v) for k, series in enumerate(sera) for s, v in zip(SITES, series)],
            columns=["serum", "site", "escape"],
        )
        sns.lineplot(data=long, x="site", y="escape", units="serum",
                     estimator=None, color="black", alpha=0.3, lw=0.85,
                     legend=False, ax=ax, zorder=2)
    mean_df = pd.DataFrame({"site": SITES, "escape": mean})
    sns.lineplot(data=mean_df, x="site", y="escape", color="black", lw=2.0,
                 legend=False, ax=ax, zorder=3)

    ax.set_xlim(331, 531)
    ax.set_ylim(-0.17, 3.52)
    ax.set_xlabel("")
    ax.set_ylabel("")
    ax.set_facecolor("white")
    for side in ("top", "right"):
        ax.spines[side].set_visible(False)
    for side in ("left", "bottom"):
        ax.spines[side].set_linewidth(1.9)
        ax.spines[side].set_color("black")

    ax.set_xticks(X_TICKS)
    ax.set_yticks(Y_TICKS)
    ax.tick_params(axis="both", direction="out", length=5, width=1.1,
                   color="#333333", labelcolor=TICK_GREY, labelsize=15.5)
    ax.tick_params(axis="y", pad=7)
    if r == 0:
        ax.tick_params(axis="x", bottom=False, labelbottom=False)
    else:
        ax.tick_params(axis="x", pad=10, labelrotation=90)
        for lab in ax.get_xticklabels():
            lab.set_va("top")
            lab.set_ha("center")
    if c == 1:
        ax.tick_params(axis="y", left=False, labelleft=False)

    # strip title above the panel
    fig.text(title_x[r][c] / W, 1 - title_y[r] / H, title, ha="center",
             va="center", fontsize=16.5, color="#1A1A1A")

fig.text(46 / W, 1 - 379 / H, "total escape at site", rotation=90,
         ha="center", va="center", fontsize=19, color="black")
fig.text(823 / W, 1 - 712 / H, "site", ha="center", va="center",
         fontsize=19, color="black")

fig.text(10 / W, 1 - 40 / H, "A", ha="left", va="baseline", fontsize=27,
         fontweight="bold", family=["Liberation Sans Narrow", "Liberation Sans"])

# ---------------------------------------------------------------- preprint notice
renderer = fig.canvas.get_renderer()
NOTICE_SIZE = 15.3
LINK = "#0000FF"


def text_width(s):
    t = fig.text(0, 0, s + "|", fontsize=NOTICE_SIZE)
    w = t.get_window_extent(renderer).width
    t.remove()
    return w


BAR = text_width("")


def notice_line(y_px, segments, centre_px=810):
    full = "".join(s for s, _ in segments)
    x0 = centre_px - (text_width(full) - BAR) / 2
    acc = ""
    for s, colour in segments:
        off = text_width(acc) - BAR if acc else 0.0
        fig.text((x0 + off) / W, 1 - y_px / H, s, color=colour,
                 fontsize=NOTICE_SIZE, ha="left", va="center")
        acc += s


notice_line(22, [("bioRxiv preprint doi: ", "black"),
                 ("https://doi.org/10.1101/2021.04.14.439844", LINK),
                 ("; this version posted April 14, 2021. The copyright holder for this preprint (which", "black")])
notice_line(46, [("was not certified by peer review) is the author/funder, who has granted bioRxiv a license to display the preprint in perpetuity. It is made", "black")])
notice_line(69, [("available under a", "black"),
                 ("CC-BY 4.0 International license", LINK),
                 (".", "black")])

fig.savefig("out.png", dpi=100, facecolor="white")
